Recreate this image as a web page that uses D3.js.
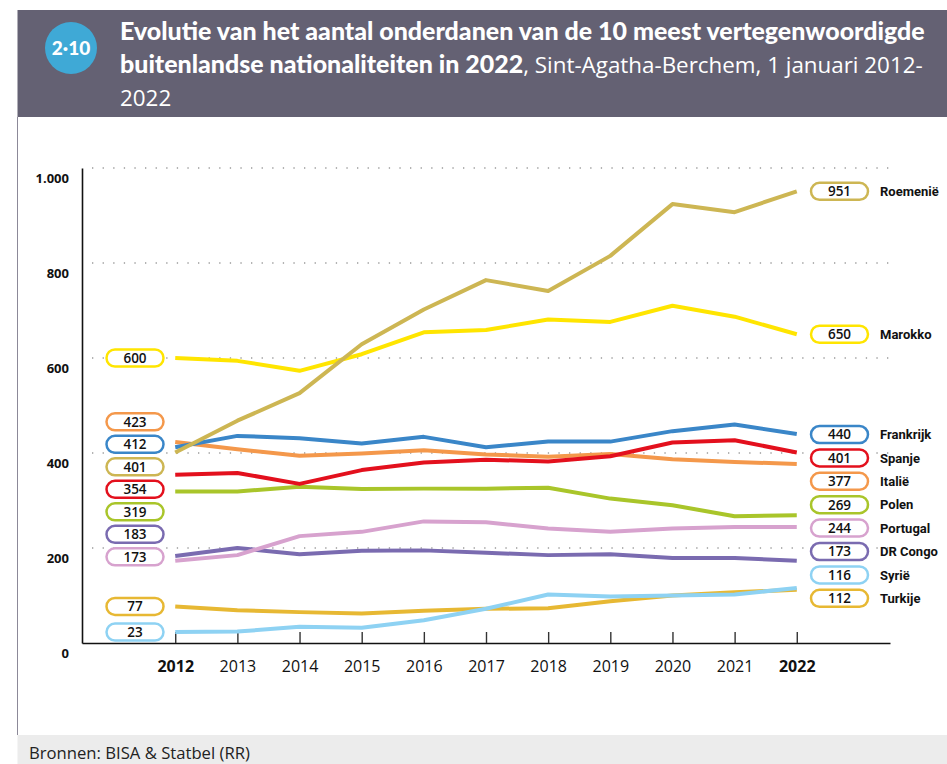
<!DOCTYPE html>
<html>
<head>
<meta charset="utf-8">
<script src="https://cdn.jsdelivr.net/npm/d3@7/dist/d3.min.js"></script>
<style>
  body { margin: 0; background: #fff; }
  svg { display: block; }
</style>
</head>
<body>
<div id="chart"></div>
<script>
// chart values
var years = [2012, 2013, 2014, 2015, 2016, 2017, 2018, 2019, 2020, 2021, 2022];
var countries = ["Roemenië", "Marokko", "Frankrijk", "Spanje", "Italië", "Polen", "Portugal", "DR Congo", "Syrië", "Turkije"];
var roemenie  = [401, 468, 526, 629, 702, 764, 741, 815, 924, 907, 951];
var marokko   = [600, 594, 573, 608, 654, 659, 681, 676, 710, 687, 650];
var frankrijk = [412, 436, 431, 420, 434, 412, 424, 424, 446, 460, 440];
var spanje    = [354, 358, 335, 364, 380, 386, 382, 393, 422, 427, 401];
var italie    = [423, 408, 394, 399, 406, 397, 392, 398, 387, 381, 377];
var polen     = [319, 319, 329, 324, 325, 325, 327, 304, 290, 267, 269];
var portugal  = [173, 185, 225, 234, 256, 254, 241, 234, 241, 244, 244];
var drcongo   = [183, 200, 187, 194, 195, 190, 185, 187, 179, 179, 173];
var syrie     = [23, 24, 34, 32, 48, 72, 102, 98, 100, 102, 116];
var turkije   = [77, 69, 65, 62, 68, 72, 73, 88, 100, 107, 112];
var yTicks = [0, 200, 400, 600, 800, 1000];
var colors = ["#cdb653", "#ffe500", "#3a86c8", "#e3101d", "#f4984b", "#a9c52a", "#d7a2ce", "#7a6bb0", "#8ed2f3", "#e7b833"];

var allValues = [roemenie, marokko, frankrijk, spanje, italie, polen, portugal, drcongo, syrie, turkije];
var series = countries.map(function(c, i) {
    return {name: c, color: colors[i], values: allValues[i]};
});

var svgWidth = 947;
var svgHeight = 764;

var svg = d3.select("#chart").append("svg")
    .attr("width", svgWidth)
    .attr("height", svgHeight);

// ---- header band ----
svg.append("rect")
    .attr("x", 17.5).attr("y", 10)
    .attr("width", svgWidth - 17.5).attr("height", 107)
    .attr("fill", "#646173");

svg.append("circle")
    .attr("cx", 71).attr("cy", 48).attr("r", 26)
    .attr("fill", "#3fa9d6");

svg.append("text")
    .attr("x", 71).attr("y", 48).attr("dy", "0.35em")
    .attr("text-anchor", "middle")
    .style("font-family", "Lato, sans-serif")
    .style("font-weight", "900")
    .style("font-size", "19px")
    .attr("fill", "#fff")
    .text("2·10");

// scale a text element's font size so it spans the wanted width
function fitWidth(sel, width) {
    var size = parseFloat(sel.style("font-size"));
    var w = sel.node().getComputedTextLength();
    sel.style("font-size", (size * width / w) + "px");
    return size * width / w;
}

var titleX = 120;
var line1 = svg.append("text")
    .attr("x", titleX).attr("y", 40)
    .attr("fill", "#fff")
    .style("font-family", "Lato, sans-serif")
    .style("font-weight", "900")
    .style("font-size", "22px")
    .text("Evolutie van het aantal onderdanen van de 10 meest vertegenwoordigde");
var boldSize = fitWidth(line1, 805);

var line2a = svg.append("text")
    .attr("x", titleX).attr("y", 73)
    .attr("fill", "#fff")
    .style("font-family", "Lato, sans-serif")
    .style("font-weight", "900")
    .style("font-size", boldSize + "px")
    .text("buitenlandse nationaliteiten in 2022");
var boldEnd = titleX + line2a.node().getComputedTextLength();

var line2b = svg.append("text")
    .attr("x", boldEnd).attr("y", 73)
    .attr("fill", "#fff")
    .style("font-family", "'Open Sans', sans-serif")
    .style("font-weight", "400")
    .style("font-size", "20px")
    .text(", Sint-Agatha-Berchem, 1 januari 2012-");
var regSize = fitWidth(line2b, 923 - boldEnd);

svg.append("text")
    .attr("x", titleX).attr("y", 106)
    .attr("fill", "#fff")
    .style("font-family", "'Open Sans', sans-serif")
    .style("font-size", regSize + "px")
    .text("2022");

// left border and footer
svg.append("line")
    .attr("x1", 17.5).attr("x2", 17.5)
    .attr("y1", 117).attr("y2", 735)
    .attr("stroke", "#8c8998").attr("stroke-width", 1);

svg.append("rect")
    .attr("x", 17.5).attr("y", 735)
    .attr("width", svgWidth - 17.5).attr("height", svgHeight - 735)
    .attr("fill", "#ececec");

var source = svg.append("text")
    .attr("x", 29).attr("y", 759)
    .attr("fill", "#222")
    .style("font-family", "'Open Sans', sans-serif")
    .style("font-size", "16px")
    .text("Bronnen: BISA & Statbel (RR)");
fitWidth(source, 221);

// ---- chart ----
var xScale = d3.scaleLinear()
    .domain([2010.5, 2023.5])
    .range([82, 890]);

var yScale = d3.scaleLinear()
    .domain([0, 1000])
    .range([643, 168]);

var nl = d3.formatLocale({decimal: ",", thousands: ".", grouping: [3], currency: ["€", ""]});

// dotted grid
svg.append("g").selectAll("line")
    .data(yTicks.filter(function(d) { return d > 0; }))
    .enter()
    .append("line")
    .attr("x1", 92).attr("x2", 890)
    .attr("y1", function(d) { return yScale(d); })
    .attr("y2", function(d) { return yScale(d); })
    .attr("stroke", "#9a9a9a")
    .attr("stroke-width", 1.3)
    .attr("stroke-dasharray", "1.3,9.3");

// y axis
var yAxis = d3.axisLeft(yScale)
    .tickValues(yTicks)
    .tickFormat(nl.format(","))
    .tickSize(0)
    .tickPadding(13);

var yAxisG = svg.append("g")
    .attr("transform", "translate(82,0)")
    .call(yAxis);
yAxisG.select(".domain").attr("stroke", "#111").attr("stroke-width", 1.6);
yAxisG.selectAll("text")
    .attr("dy", "0.35em")
    .attr("y", 10)
    .attr("fill", "#111")
    .style("font-family", "'Open Sans', sans-serif")
    .style("font-weight", "700")
    .style("font-size", "13px");

// x axis, ticks pointing up
var xAxis = d3.axisBottom(xScale)
    .tickValues(years)
    .tickFormat(d3.format("d"))
    .tickSizeInner(-11)
    .tickSizeOuter(0)
    .tickPadding(18);

var xAxisG = svg.append("g")
    .attr("transform", "translate(0,643)")
    .call(xAxis);
xAxisG.select(".domain").attr("stroke", "#111").attr("stroke-width", 1.6);
xAxisG.selectAll(".tick line").attr("stroke", "#333").attr("stroke-width", 1.4);
xAxisG.selectAll("text")
    .attr("fill", "#111")
    .style("font-family", "'Open Sans', sans-serif")
    .style("font-size", "16px")
    .style("font-weight", function(d) { return (d === years[0] || d === years[years.length - 1]) ? "700" : "400"; });

// lines
var line = d3.line()
    .x(function(d, i) { return xScale(years[i]); })
    .y(function(d) { return yScale(d); });

var drawOrder = ["Turkije", "Syrië", "DR Congo", "Portugal", "Polen", "Italië", "Spanje", "Frankrijk", "Marokko", "Roemenië"];
svg.append("g").selectAll("path")
    .data(drawOrder.map(function(n) { return series.find(function(s) { return s.name === n; }); }))
    .enter()
    .append("path")
    .attr("d", function(d) { return line(d.values); })
    .attr("fill", "none")
    .attr("stroke", function(d) { return d.color; })
    .attr("stroke-width", 4)
    .attr("stroke-linejoin", "round");

// stack value labels so that they do not overlap
function stackLabels(items, gap) {
    items.sort(function(a, b) { return a.y - b.y; });
    var groups = [];
    function mean(g) { return g.sum / g.items.length; }
    function top(g) { return mean(g) - (g.items.length - 1) / 2 * gap; }
    function bottom(g) { return mean(g) + (g.items.length - 1) / 2 * gap; }
    items.forEach(function(it) {
        groups.push({items: [it], sum: it.y});
        while (groups.length > 1) {
            var b = groups[groups.length - 1], a = groups[groups.length - 2];
            var limit = (a.items.length > 1 && b.items.length > 1) ? 2 * gap : gap;
            if (top(b) - bottom(a) >= limit) break;
            groups.pop();
            a.items = a.items.concat(b.items);
            a.sum += b.sum;
        }
    });
    groups.forEach(function(g) {
        var m = mean(g);
        g.items.forEach(function(it, k) { it.ly = m + (k - (g.items.length - 1) / 2) * gap; });
    });
    return items;
}

var leftLabels = stackLabels(series.map(function(s) {
    return {s: s, v: s.values[0], y: yScale(s.values[0])};
}), 22.5);
var rightLabels = stackLabels(series.map(function(s) {
    return {s: s, v: s.values[s.values.length - 1], y: yScale(s.values[s.values.length - 1])};
}), 23.4);

function drawPills(data, cx) {
    var g = svg.append("g").selectAll("g")
        .data(data)
        .enter()
        .append("g")
        .attr("transform", function(d) { return "translate(" + cx + "," + d.ly + ")"; });
    g.append("rect")
        .attr("x", -28.5).attr("y", -8.5)
        .attr("width", 57).attr("height", 17)
        .attr("rx", 8.5)
        .attr("fill", "#fff")
        .attr("stroke", function(d) { return d.s.color; })
        .attr("stroke-width", 2.5);
    g.append("text")
        .attr("text-anchor", "middle")
        .attr("dy", "0.36em")
        .attr("fill", "#111")
        .style("font-family", "'Open Sans', sans-serif")
        .style("font-weight", "600")
        .style("font-size", "13.5px")
        .text(function(d) { return d.v; });
    return g;
}

drawPills(leftLabels, 135);
var rightG = drawPills(rightLabels, 839.5);
rightG.append("text")
    .attr("x", 880 - 839.5)
    .attr("dy", "0.36em")
    .attr("fill", "#111")
    .style("font-family", "Roboto, sans-serif")
    .style("font-weight", "700")
    .style("font-size", "13px")
    .text(function(d) { return d.s.name; });
</script>
</body>
</html>
